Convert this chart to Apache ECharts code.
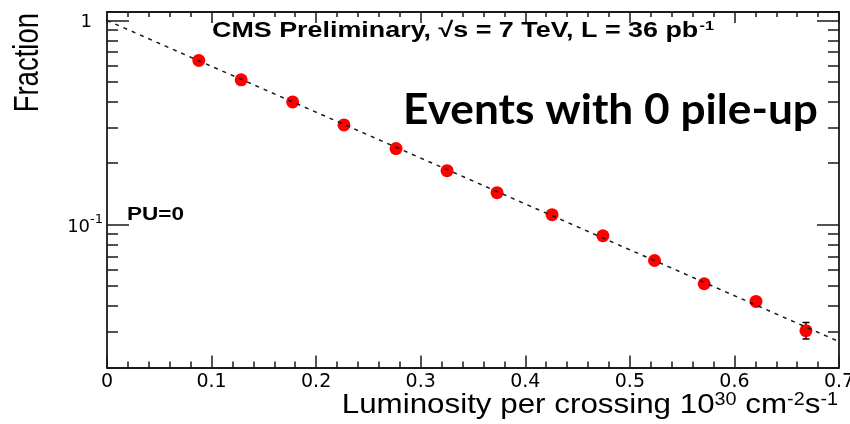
<!DOCTYPE html>
<html><head><meta charset="utf-8">
<script src="https://cdn.jsdelivr.net/npm/echarts@6/dist/echarts.min.js"></script>
<style>html,body{margin:0;padding:0;background:#fff}#c{width:850px;height:424px}</style>
</head><body><div id="c"></div>
<script>
// ---- data ----
const lumi     = [0.0878, 0.1283, 0.1775, 0.2266, 0.2764, 0.3252, 0.3730, 0.4256, 0.4742, 0.5236, 0.5711, 0.6206, 0.6684];
const fraction = [0.637, 0.512, 0.399, 0.308, 0.236, 0.184, 0.1435, 0.112, 0.0883, 0.0668, 0.0514, 0.0421, 0.0303];
const errUp    = [0.006, 0.005, 0.004, 0.003, 0.0025, 0.002, 0.0018, 0.0016, 0.0015, 0.0015, 0.0015, 0.0018, 0.0029];
const errDown  = [0.006, 0.005, 0.004, 0.003, 0.0025, 0.002, 0.0018, 0.0016, 0.0015, 0.0015, 0.0015, 0.0018, 0.0027];
const fitX = [0, 0.7];
const fitY = [1.0, 0.0268];
const xMin = 0, xMax = 0.7, xStep = 0.1;
const yMin = 0.02, yMax = 1.1;
const yMajorTicks = [0.1, 1];
const yMinorTicks = [0.03, 0.04, 0.05, 0.06, 0.07, 0.08, 0.09, 0.2, 0.3, 0.4, 0.5, 0.6, 0.7, 0.8, 0.9];
const titleText = 'CMS Preliminary, √s = 7 TeV, L = 36 pb';
const overlayText = 'Events with 0 pile-up';
const legendText = 'PU=0';
const yTitle = 'Fraction';

const INK = '#1a1a1a';
const chart = echarts.init(document.getElementById('c'), null, {renderer: 'canvas'});

function yAxisDef(pos, ticks, len, withLine, withLabel) {
  return {
    type: 'log', logBase: 10, min: yMin, max: yMax, position: pos,
    axisLine: {show: withLine, onZero: false, lineStyle: {color: INK, width: 1.8}},
    axisTick: {show: true, inside: true, length: len, customValues: ticks, lineStyle: {color: INK, width: 1.5}},
    axisLabel: withLabel ? {
      show: true, customValues: yMajorTicks, margin: 4,
      fontFamily: 'DejaVu Sans', fontSize: 19, color: '#000',
      formatter: function (v) { return v >= 0.99 ? '{one|1}' : '{m|10}{sup|-1}'; },
      rich: {
        one: {fontFamily: 'DejaVu Sans', fontSize: 18, color: '#000', padding: [4, 11, 0, 0]},
        m: {fontFamily: 'DejaVu Sans', fontSize: 18, color: '#000', padding: [6, 0, 0, 0], verticalAlign: 'bottom'},
        sup: {fontFamily: 'DejaVu Sans', fontSize: 13, color: '#000', verticalAlign: 'top'}
      }
    } : {show: false},
    splitLine: {show: false}, minorTick: {show: false}
  };
}
function xAxisDef(pos, majorLen, minorLen, withLabel) {
  return {
    type: 'value', min: xMin, max: xMax, interval: xStep, position: pos,
    axisLine: {show: true, onZero: false, lineStyle: {color: INK, width: 1.8}},
    axisTick: {show: true, inside: true, length: majorLen, lineStyle: {color: INK, width: 1.5}},
    minorTick: {show: true, splitNumber: 5, length: minorLen, lineStyle: {color: INK, width: 1.5}},
    axisLabel: withLabel ? {show: true, margin: 5, fontFamily: 'DejaVu Sans', fontSize: 19, color: '#000',
      formatter: function (v) { return v === 0 ? '0' : v.toFixed(1); }} : {show: false},
    splitLine: {show: false}
  };
}

const option = {
  animation: false,
  backgroundColor: '#ffffff',
  grid: {left: 107, right: 11, top: 12, bottom: 56.5, containLabel: false, outerBoundsMode: 'none'},
  xAxis: [xAxisDef('bottom', 12, 6, true), xAxisDef('top', 11, 5, false)],
  yAxis: [
    yAxisDef('left', yMajorTicks, 22, true, true),
    yAxisDef('left', yMinorTicks, 11, false, false),
    yAxisDef('right', yMajorTicks, 22, true, false),
    yAxisDef('right', yMinorTicks, 11, false, false)
  ],
  series: [
    {
      type: 'custom', xAxisIndex: 0, yAxisIndex: 0, z: 2, clip: true,
      data: lumi.map(function (x, i) { return [x, fraction[i] - errDown[i], fraction[i] + errUp[i]]; }),
      encode: {x: 0, y: [1, 2]},
      renderItem: function (params, api) {
        const x = api.value(0), lo = api.value(1), hi = api.value(2);
        const p1 = api.coord([x, hi]), p2 = api.coord([x, lo]);
        const w = 3.5, st = {stroke: '#000', lineWidth: 1.5};
        return {type: 'group', children: [
          {type: 'line', shape: {x1: p1[0], y1: p1[1], x2: p2[0], y2: p2[1]}, style: st},
          {type: 'line', shape: {x1: p1[0] - w, y1: p1[1], x2: p1[0] + w, y2: p1[1]}, style: st},
          {type: 'line', shape: {x1: p2[0] - w, y1: p2[1], x2: p2[0] + w, y2: p2[1]}, style: st}
        ]};
      }
    },
    {
      type: 'scatter', xAxisIndex: 0, yAxisIndex: 0, z: 3,
      symbol: 'circle', symbolSize: 13,
      itemStyle: {color: '#ff0000', opacity: 1},
      data: lumi.map(function (x, i) { return [x, fraction[i]]; })
    },
    {
      type: 'line', xAxisIndex: 0, yAxisIndex: 0, z: 4,
      symbol: 'none', silent: true,
      lineStyle: {color: '#1a1a1a', width: 1.5, type: [4, 5]},
      data: fitX.map(function (x, i) { return [x, fitY[i]]; })
    }
  ],
  graphic: [
    {
      type: 'text', x: 212, y: 31, scaleX: 1.25, z: 10,
      style: {
        text: titleText + '{sup|-1}', align: 'left', verticalAlign: 'middle',
        fontFamily: 'Liberation Sans', fontWeight: 'bold', fontSize: 21.5, fill: '#000',
        rich: {sup: {fontFamily: 'Liberation Sans', fontWeight: 'bold', fontSize: 13, fill: '#000', verticalAlign: 'top', padding: [0, 0, 6, 1]}}
      }
    },
    {
      type: 'text', x: 403, y: 110, scaleX: 1.053, z: 10,
      style: {
        text: overlayText, align: 'left', verticalAlign: 'middle',
        fontFamily: 'Lato', fontWeight: 'bold', fontSize: 42, fill: '#000'
      }
    },
    {
      type: 'text', x: 127, y: 215, scaleX: 1.22, z: 10,
      style: {
        text: legendText, align: 'left', verticalAlign: 'middle',
        fontFamily: 'Liberation Sans', fontWeight: 'bold', fontSize: 18.5, fill: '#000'
      }
    },
    {
      type: 'text', x: 28.5, y: 13, rotation: Math.PI / 2, scaleY: 1.25, z: 10,
      style: {
        text: yTitle, align: 'right', verticalAlign: 'middle',
        fontFamily: 'Liberation Sans', fontSize: 27.5, fill: '#000'
      }
    },
    {
      type: 'text', x: 838, y: 405, scaleX: 1.1, z: 10,
      style: {
        text: '{b|Luminosity per crossing 10}{sup|30}{b| cm}{sup|-2}{b|s}{sup|-1}',
        align: 'right', verticalAlign: 'middle',
        fontFamily: 'Liberation Sans', fontSize: 28.5, fill: '#000',
        rich: {
          b: {fontFamily: 'Liberation Sans', fontSize: 28.5, lineHeight: 28.5, fill: '#000', verticalAlign: 'bottom'},
          sup: {fontFamily: 'Liberation Sans', fontSize: 18, lineHeight: 18, fill: '#000', verticalAlign: 'top', padding: [0, 0, 22, 0]}
        }
      }
    }
  ]
};
chart.setOption(option);
</script>
</body></html>
